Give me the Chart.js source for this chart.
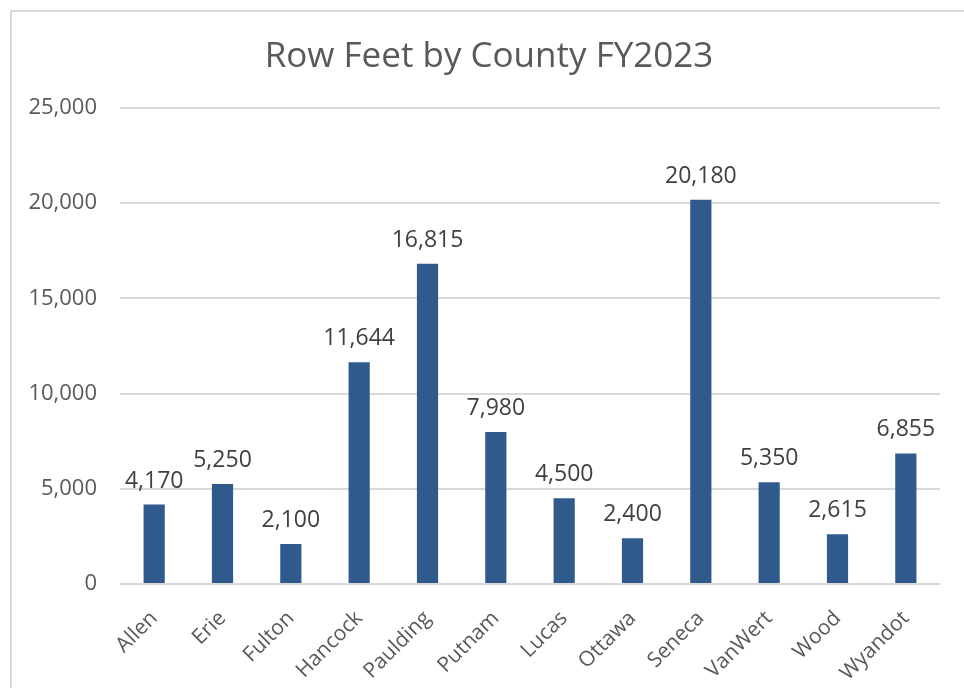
<!DOCTYPE html>
<html lang="en">
<head>
  <meta charset="UTF-8">
  <title>Row Feet by County FY2023</title>
  <script src="https://cdn.jsdelivr.net/npm/chart.js"></script>
  <style>
    html, body { margin: 0; padding: 0; background: #fff; overflow: hidden; }
    #frame { position: absolute; left: 10px; top: 10px; width: 1000px; height: 800px; border: 2px solid #d9d9d9; box-sizing: border-box; }
    #wrap { position: absolute; left: 0; top: 0; width: 964px; height: 688px; }
  </style>
</head>
<body>
  <div id="frame"></div>
  <div id="wrap"><canvas id="barChart" width="964" height="688"></canvas></div>

  <script>
    const counties = ['Allen', 'Erie', 'Fulton', 'Hancock', 'Paulding', 'Putnam', 'Lucas', 'Ottawa', 'Seneca', 'VanWert', 'Wood', 'Wyandot'];
    const rowFeet = [4170, 5250, 2100, 11644, 16815, 7980, 4500, 2400, 20180, 5350, 2615, 6855];
    const yTicks = [0, 5000, 10000, 15000, 20000, 25000];
    const chartTitle = 'Row Feet by County FY2023';

    const fmt = v => v.toLocaleString('en-US');

    // value labels above each bar + title centred on the frame (not the plot)
    const barLabels = {
      id: 'barLabels',
      afterDatasetsDraw(chart) {
        const ctx = chart.ctx;
        const meta = chart.getDatasetMeta(0);
        ctx.save();
        ctx.font = '23px "Open Sans"';
        ctx.fillStyle = '#404040';
        ctx.textAlign = 'center';
        ctx.textBaseline = 'alphabetic';
        meta.data.forEach((bar, i) => {
          ctx.fillText(fmt(rowFeet[i]), bar.x, bar.y - 17);
        });

        ctx.font = '35px "Open Sans"';
        ctx.fillStyle = '#595959';
        ctx.fillText(chartTitle, chart.width / 2 + 7, 67);
        ctx.restore();
      }
    };

    new Chart(document.getElementById('barChart'), {
      type: 'bar',
      data: {
        labels: counties,
        datasets: [{
          data: rowFeet,
          backgroundColor: '#2f5a8b',
          categoryPercentage: 1,
          barPercentage: 0.31
        }]
      },
      options: {
        responsive: false,
        animation: false,
        layout: { padding: { left: 14, right: 24, top: 108, bottom: 0 } },
        plugins: {
          legend: { display: false },
          tooltip: { enabled: false },
          title: { display: false }
        },
        scales: {
          x: {
            grid: { display: false },
            border: { display: false },
            ticks: {
              color: '#595959',
              font: { family: 'Open Sans', size: 21 },
              minRotation: 45,
              maxRotation: 45,
              padding: 14
            },
            afterFit(scale) { scale.height = 104; }
          },
          y: {
            min: 0,
            max: 25000,
            afterBuildTicks(scale) { scale.ticks = yTicks.map(v => ({ value: v })); },
            grid: { color: '#d9d9d9', lineWidth: 2, drawTicks: false },
            border: { display: false },
            ticks: {
              color: '#595959',
              font: { family: 'Open Sans', size: 22 },
              padding: 23,
              callback: v => fmt(v)
            },
            afterFit(scale) { scale.width = 106; }
          }
        }
      },
      plugins: [barLabels]
    });
  </script>
</body>
</html>
